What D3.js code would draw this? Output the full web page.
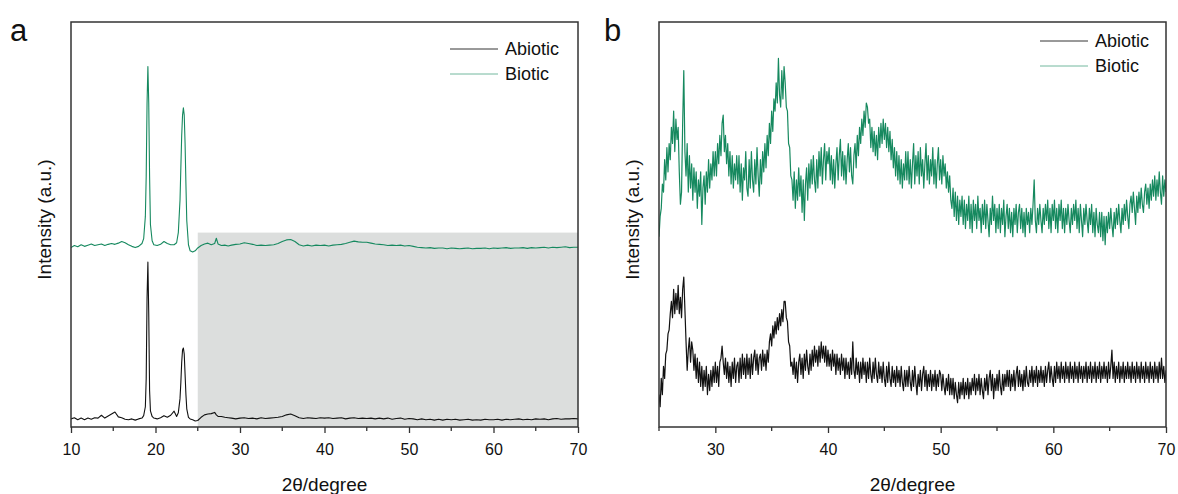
<!DOCTYPE html>
<html>
<head>
<meta charset="utf-8">
<script src="https://cdn.jsdelivr.net/npm/d3@7"></script>
<style>
  body { margin: 0; background: #fff; }
  svg { display: block; font-family: "Liberation Sans", Arial, sans-serif; }
</style>
</head>
<body>
<div id="chart"></div>
<script>
// panel a: 2theta positions (finer around the two sharp peaks)
const xA = [10,10.4,10.8,11.2,11.6,12,12.4,12.8,13.2,13.6,14,14.4,14.8,15.2,15.6,16,16.4,16.8,17.2,17.6,18,
  18.4,18.6,18.8,18.9,19,19.1,19.2,19.3,19.4,19.6,19.8,
  20.2,20.6,21,21.4,21.8,22.2,22.5,22.7,22.9,
  23,23.1,23.2,23.3,23.4,23.5,23.6,23.7,23.9,24.1,
  24.4,24.7,25,25.4,25.8,26.2,26.6,27,27.2,27.4,27.8,28.2,28.6,
  29,29.5,30,30.5,31,31.5,32,32.5,33,33.5,34,34.5,35,35.5,36,36.5,37,37.5,38,38.5,39,39.5,40,
  40.5,41,41.5,42,42.5,43,43.5,44,44.5,45,45.5,46,46.5,47,47.5,48,48.5,49,49.5,50,
  50.5,51,51.5,52,52.5,53,53.5,54,54.5,55,55.5,56,56.5,57,57.5,58,58.5,59,59.5,60,
  60.5,61,61.5,62,62.5,63,63.5,64,64.5,65,65.5,66,66.5,67,67.5,68,68.5,69,69.5,70];

// panel a intensities (stacked, a.u.)
const abioticA = [2.0,2.3,1.8,2.2,1.8,2.2,1.9,2.3,2.2,2.9,2.2,2.7,3.2,3.7,2.5,2.3,1.9,1.8,2.0,1.7,2.0,
  2.2,2.8,5,12,32,40.7,28,9,4,2.6,2.2,
  2.0,2.3,2.8,2.4,2.9,3.9,2.6,3.5,7,
  11,16,19,19.5,18,13,8,4.5,2.4,2.0,
  1.8,1.5,1.6,2.4,3.0,3.2,3.3,3.6,3.0,2.6,2.6,2.4,2.3,
  2.2,2.0,2.2,2.3,2.1,2.2,2.0,2.3,2.1,2.2,2.3,2.4,2.6,3.0,3.2,2.8,2.3,2.1,2.3,2.2,2.1,2.3,2.2,
  2.3,2.1,2.2,2.3,2.0,2.2,2.3,2.1,2.2,2.1,2.2,2.0,2.2,2.0,2.2,1.9,2.1,2.2,1.9,2.1,
  2.0,1.8,2.0,1.8,1.9,1.7,1.9,1.7,1.9,1.8,1.9,1.7,1.8,1.9,1.7,1.8,1.7,1.9,1.8,1.8,
  1.9,1.7,1.9,1.8,1.9,2.0,1.8,1.9,1.8,2.0,1.9,2.0,1.8,2.0,2.1,1.9,2.0,2.0,2.1,2.0];

const bioticA = [44.3,44.8,44.5,45.0,44.6,44.9,45.2,44.8,45.0,45.2,44.8,45.1,45.3,45.1,45.4,45.8,45.5,45.0,44.6,44.3,44.6,
  45.3,46.5,52,62,80,89,80,62,50,46,45,
  44.8,45.1,45.8,45.3,45.0,45.0,45.5,48,56,
  64,72,77,78.8,77,70,60,51,45,43.5,
  43.2,43.5,44.2,44.8,45.2,45.4,45.0,45.3,46.6,45.2,44.8,44.9,44.7,
  44.9,45.1,45.2,45.5,45.3,45.1,44.8,44.9,44.8,44.9,45.0,45.3,45.8,46.2,46.3,45.8,45.0,44.7,44.9,44.7,44.9,44.8,44.9,
  44.7,44.9,45.0,45.1,45.3,45.6,45.9,45.7,45.6,45.6,45.4,45.2,45.1,45.0,44.8,44.9,44.8,44.9,44.7,44.8,
  44.6,44.4,44.3,44.2,44.3,44.1,44.2,44.2,44.0,44.2,44.1,44.0,44.1,44.2,44.0,44.1,44.1,44.2,44.0,44.2,
  44.1,44.2,44.3,44.1,44.2,44.2,44.3,44.1,44.3,44.2,44.3,44.4,44.2,44.4,44.3,44.4,44.5,44.3,44.4,44.4];

// panel b: 25-70 deg, one value every 0.1 deg
const startB = 25, stepB = 0.1;
const abioticB = [
  8,5,12,8,15,12,18,19,23,24,
  28,31,27,34,28,33,29,35,28,32,
  27,34,37,29,21,14,19,22,16,21,
  19,14,18,12,17,11,16,10,15,9,
  14,10,15,8,13,9,14,10,15,11,
  16,11,15,10,16,17,20,16,13,17,
  12,16,11,15,10,16,12,17,11,15,
  16,11,17,12,18,13,17,12,18,13,
  17,12,18,13,17,19,14,18,13,17,
  18,14,19,15,18,14,19,16,21,23,
  20,25,22,26,23,27,24,28,25,29,
  26,31,31,27,26,21,20,15,16,13,
  17,12,16,11,16,18,13,17,12,18,
  14,19,15,13,18,14,19,15,20,16,
  19,15,20,16,21,17,20,16,20,15,
  19,15,18,14,19,15,18,13,18,14,
  17,13,18,14,17,12,17,13,16,12,
  17,13,21,14,12,17,13,16,11,16,
  12,17,13,16,11,16,12,17,13,11,
  16,12,17,13,11,16,12,15,11,16,
  12,10,15,11,16,12,10,15,11,14,
  10,15,11,14,10,15,11,9,14,10,
  14,10,15,11,9,14,10,15,11,8,
  13,10,14,9,13,15,10,14,9,13,
  10,14,9,13,10,14,9,13,10,14,
  13,9,13,10,8,12,9,13,8,12,
  8,12,7,11,8,6,11,7,11,8,
  12,7,11,8,12,7,11,8,12,9,
  13,8,12,9,13,8,12,9,7,12,
  9,13,8,12,14,9,13,7,12,9,
  13,9,14,10,8,13,9,13,10,14,
  10,14,9,13,10,14,9,13,15,10,
  14,10,13,9,14,10,15,11,10,14,
  11,15,10,14,11,15,10,14,11,15,
  11,14,10,15,11,14,16,11,15,12,
  10,15,11,16,12,15,11,16,12,15,
  11,16,12,15,11,16,12,15,11,16,
  12,15,11,16,12,15,11,15,12,16,
  11,15,12,16,11,15,12,16,11,15,
  12,16,11,15,12,16,12,15,11,16,
  12,15,19,12,16,11,15,12,16,11,
  15,12,16,11,15,12,16,12,15,11,
  16,12,15,11,16,12,15,11,16,12,
  15,11,16,12,15,11,16,12,15,11,
  16,12,15,11,16,12,17,12,15,11,
  14];

const bioticB = [
  47,52,54,60,58,66,61,69,63,70,
  66,74,70,78,68,76,71,74,63,55,
  58,75,88,68,62,70,58,67,59,65,
  56,64,58,63,54,61,57,63,50,59,
  62,55,63,58,66,59,65,61,68,62,
  68,62,70,65,72,67,75,77,68,72,
  65,70,62,68,60,67,59,65,61,67,
  60,67,58,65,56,64,61,68,59,57,
  66,59,68,61,58,66,60,69,62,57,
  66,60,68,63,70,64,72,67,75,70,
  78,73,81,78,85,80,91,82,79,88,
  81,89,85,79,78,70,69,62,61,56,
  63,54,61,56,64,57,62,53,61,51,
  60,64,56,65,59,66,60,67,61,58,
  66,59,68,62,69,60,66,70,61,68,
  65,69,61,67,60,66,59,65,69,61,
  67,71,62,68,61,67,60,66,70,63,
  69,62,60,67,70,64,72,67,74,70,
  76,72,78,74,80,79,75,76,69,74,
  68,73,67,72,66,74,69,75,70,76,
  71,75,69,74,68,73,66,71,64,69,
  62,68,61,67,60,66,59,65,61,68,
  61,68,60,66,59,65,70,60,67,62,
  68,60,69,62,66,59,65,70,61,67,
  60,66,62,69,60,66,59,65,69,61,
  66,60,67,62,65,59,63,58,62,56,
  54,59,52,58,51,57,50,56,52,57,
  50,56,49,55,51,57,49,55,48,56,
  51,55,49,57,51,54,48,55,50,56,
  49,55,51,47,54,50,57,51,55,48,
  54,49,55,48,54,50,56,47,52,55,
  49,54,48,53,47,54,50,55,48,53,
  55,49,54,48,53,47,54,50,53,48,
  54,50,55,61,51,48,54,50,55,51,
  48,54,50,55,51,56,49,54,48,55,
  51,56,49,54,48,55,51,56,49,54,
  48,54,50,55,51,48,54,50,55,51,
  56,49,54,48,55,51,47,54,50,55,
  51,48,54,50,55,48,53,47,54,50,
  48,53,47,53,46,52,45,52,48,53,
  49,54,50,47,53,49,54,50,55,51,
  48,54,50,55,51,56,52,49,55,57,
  53,58,54,50,57,53,58,54,59,55,
  53,58,60,55,59,54,60,56,61,57,
  62,56,61,57,63,58,55,62,57,61,
  58];

const seriesNames = ["Abiotic", "Biotic"];
const seriesColors = ["#111111", "#16895f"];
const majorTicks = [10, 20, 30, 40, 50, 60, 70];
const minorTicks = [15, 25, 35, 45, 55, 65];

const W = 1178, H = 494;
const plotTop = 22, plotBottom = 427;

const svg = d3.select("#chart").append("svg")
  .attr("width", W)
  .attr("height", H);

const yScale = d3.scaleLinear().domain([0, 100]).range([plotBottom, plotTop]);

const xBvals = abioticB.map((d, i) => startB + i * stepB);

const drawPanel = (opts) => {
  const xScale = d3.scaleLinear().domain(opts.domain).range([opts.left, opts.right]);
  const g = svg.append("g");

  g.append("clipPath").attr("id", "clip-" + opts.key)
    .append("rect")
    .attr("x", opts.left).attr("y", plotTop)
    .attr("width", opts.right - opts.left).attr("height", plotBottom - plotTop);

  if (opts.shade) {
    g.append("rect")
      .attr("x", xScale(opts.shade[0]))
      .attr("y", yScale(opts.shade[1]))
      .attr("width", xScale(opts.domain[1]) - xScale(opts.shade[0]))
      .attr("height", plotBottom - yScale(opts.shade[1]))
      .attr("fill", "#dcdedd");
  }

  const line = d3.line()
    .x(d => xScale(d[0]))
    .y(d => yScale(d[1]));

  const lines = g.append("g").attr("clip-path", "url(#clip-" + opts.key + ")");
  opts.series.forEach((s, i) => {
    lines.append("path")
      .datum(opts.x.map((x, j) => [x, s[j]]))
      .attr("d", line)
      .attr("fill", "none")
      .attr("stroke", seriesColors[i])
      .attr("stroke-width", opts.lineWidth)
      .attr("stroke-linejoin", "round");
  });

  // frame
  g.append("rect")
    .attr("x", opts.left).attr("y", plotTop)
    .attr("width", opts.right - opts.left).attr("height", plotBottom - plotTop)
    .attr("fill", "none")
    .attr("stroke", "#333")
    .attr("stroke-width", 1.5);

  const xAxis = d3.axisBottom(xScale)
    .tickValues(majorTicks.filter(t => t >= opts.domain[0]))
    .tickFormat(d3.format("d"))
    .tickSizeInner(6)
    .tickSizeOuter(0)
    .tickPadding(11);

  const ax = g.append("g")
    .attr("transform", "translate(0," + plotBottom + ")")
    .call(xAxis);
  ax.select(".domain").remove();
  ax.selectAll(".tick line").attr("stroke", "#333").attr("stroke-width", 1.3);
  ax.selectAll(".tick text")
    .attr("fill", "#111")
    .style("font-size", "16px")
    .style("font-family", "Liberation Sans, Arial, sans-serif");

  g.append("g").selectAll("line")
    .data(minorTicks.filter(t => t >= opts.domain[0]))
    .enter().append("line")
    .attr("x1", d => xScale(d)).attr("x2", d => xScale(d))
    .attr("y1", plotBottom).attr("y2", plotBottom + 4)
    .attr("stroke", "#333")
    .attr("stroke-width", 1.3);

  g.append("text")
    .attr("x", (opts.left + opts.right) / 2)
    .attr("y", 491)
    .attr("text-anchor", "middle")
    .style("font-size", "19px")
    .attr("fill", "#111")
    .text("2\u03b8/degree");

  g.append("text")
    .attr("transform", "translate(" + opts.ylabelX + "," + ((plotTop + plotBottom) / 2 - 5) + ") rotate(-90)")
    .attr("text-anchor", "middle")
    .style("font-size", "19px")
    .attr("fill", "#111")
    .text("Intensity (a.u.)");

  g.append("text")
    .attr("x", opts.tagX)
    .attr("y", 41)
    .style("font-size", "31px")
    .attr("fill", "#111")
    .text(opts.key);

  // legend
  const legend = g.append("g").attr("transform", "translate(" + opts.legend[0] + "," + opts.legend[1] + ")");
  seriesNames.forEach((name, i) => {
    legend.append("line")
      .attr("x1", 0).attr("x2", 48)
      .attr("y1", i * 25).attr("y2", i * 25)
      .attr("stroke", seriesColors[i])
      .attr("stroke-opacity", i === 1 ? 0.6 : 0.85)
      .attr("stroke-width", 1);
    legend.append("text")
      .attr("x", 55)
      .attr("y", i * 25 + 6)
      .style("font-size", "18px")
      .attr("fill", "#111")
      .text(name);
  });
};

drawPanel({
  key: "a", domain: [10, 70], left: 71, right: 578,
  x: xA, series: [abioticA, bioticA], lineWidth: 1.1,
  shade: [25, 48], ylabelX: 51, tagX: 10, legend: [450, 49]
});

drawPanel({
  key: "b", domain: [25, 70], left: 659, right: 1166,
  x: xBvals, series: [abioticB, bioticB], lineWidth: 1.2,
  shade: null, ylabelX: 639, tagX: 604, legend: [1040, 41]
});
</script>
</body>
</html>
